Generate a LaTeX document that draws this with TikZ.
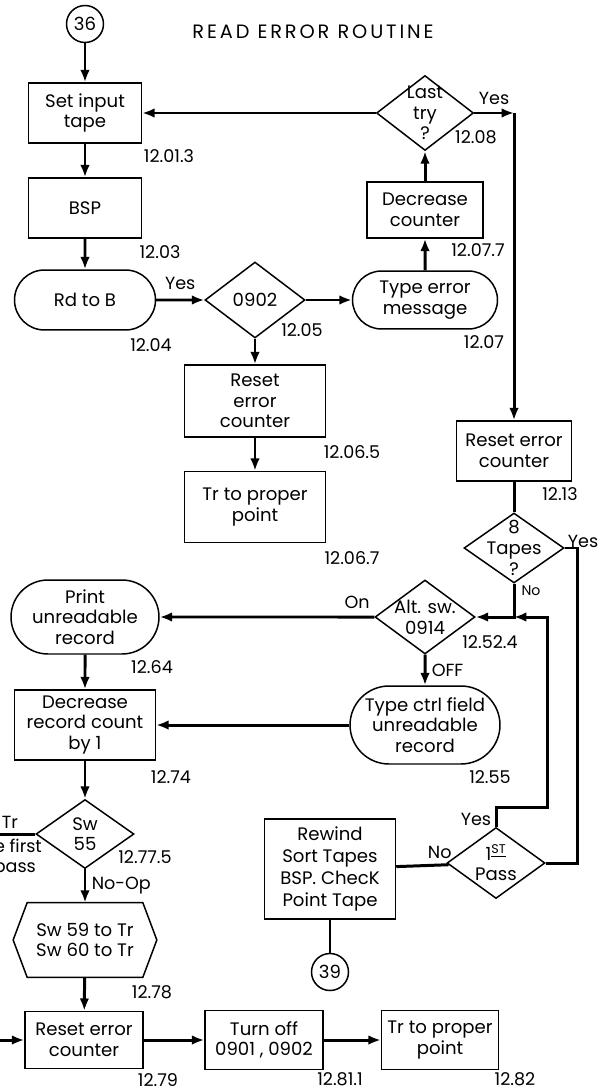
\documentclass[tikz,border=0pt]{standalone}
\usepackage{fontspec}
\setmainfont{Poppins}
\newfontfamily\titlefont[LetterSpace=15]{Poppins}
\usetikzlibrary{arrows.meta,shapes.geometric,shapes.misc,positioning,calc}

\begin{document}
\begin{tikzpicture}[x=0.02cm, y=-0.02cm, >={Latex[length=7pt,width=5.4pt]},
  every node/.style={font=\fontsize{10.3}{11.8}\selectfont},
  box/.style={draw, line width=0.85pt, inner sep=0pt, align=center},
  term/.style={box, rounded rectangle},
  decision/.style={draw, line width=0.85pt, diamond, inner sep=0pt},
  conn/.style={draw, line width=0.85pt, circle, inner sep=0pt, minimum size=0.74cm},
  flow/.style={line width=1.7pt, ->},
  wire/.style={line width=1.7pt},
  tag/.style={font=\fontsize{10}{12}\selectfont, inner sep=1pt},
  small tag/.style={font=\fontsize{8}{9}\selectfont, inner sep=1pt}]
  \useasboundingbox (0,0) rectangle (598,1091);

  % Title and entry
  \node[font=\titlefont\fontsize{11}{13}\selectfont] (title) at (313,32) {READ ERROR ROUTINE};
  \node[conn] (c36) at (85,24) {36};

  % Left column, top
  \node[box, minimum width=2.26cm, minimum height=1.2cm] (setin) at (85,113) {Set input\\tape};
  \node[box, minimum width=2.26cm, minimum height=1.2cm] (bsp) at (85,208) {BSP};
  \node[term, minimum width=2.82cm, minimum height=1.2cm] (rdb) at (85,300) {Rd to B};

  % Middle column
  \node[decision, minimum width=2cm, minimum height=1.52cm, label={center:0902}] (d0902) at (255,300) {};
  \node[box, minimum width=2.82cm, minimum height=1.44cm] (reset1) at (255,401) {Reset\\error\\counter};
  \node[box, minimum width=2.82cm, minimum height=1.42cm] (trpp1) at (255,507) {Tr to proper\\point};

  % Retry loop
  \node[term, minimum width=2.9cm, minimum height=1.16cm] (typeerr) at (425,300) {Type error\\message};
  \node[box, minimum width=2.32cm, minimum height=1.12cm] (deccnt) at (425,210) {Decrease\\counter};
  \node[decision, minimum width=1.94cm, minimum height=1.5cm,
        label={[align=center]center:Last\\try\\?}] (lasttry) at (425,113) {};

  % Right column
  \node[box, minimum width=2.3cm, minimum height=1.2cm] (reset2) at (514,451) {Reset error\\counter};
  \node[decision, minimum width=2cm, minimum height=1.4cm,
        label={[align=center]center:8\\Tapes\\?}] (tapes8) at (514,548) {};
  \node[decision, minimum width=2cm, minimum height=1.48cm,
        label={[align=center]center:Alt. sw.\\0914}] (altsw) at (425,617) {};
  \node[term, minimum width=3cm, minimum height=1.56cm] (typectrl) at (425,725) {Type ctrl field\\unreadable\\record};
  \node[decision, minimum width=1.96cm, minimum height=1.42cm,
        label={[align=center]center:1\textsuperscript{\underline{ST}}\\Pass}] (pass1) at (496,863) {};
  \node[box, minimum width=2.62cm, minimum height=2cm, font=\fontsize{10.3}{12.4}\selectfont] (rewind) at (330,869) {Rewind\\Sort Tapes\\BSP. ChecK\\Point Tape};
  \node[conn] (c39) at (330,972) {39};

  % Left column, bottom
  \node[term, minimum width=2.96cm, minimum height=1.48cm] (print) at (85,617) {Print\\unreadable\\record};
  \node[box, minimum width=2.82cm, minimum height=1.4cm] (decrec) at (85,725) {Decrease\\record count\\by 1};
  \node[decision, minimum width=1.96cm, minimum height=1.38cm,
        label={[align=center]center:Sw\\55}] (sw55) at (85,834) {};
  \node[minimum width=2.86cm, minimum height=1.48cm, inner sep=0pt, align=center] (hexa) at (85,940) {Sw 59 to Tr\\Sw 60 to Tr};
  \draw[line width=0.85pt] (hexa.west) -- ([xshift=0.28cm]hexa.north west) -- ([xshift=-0.28cm]hexa.north east)
    -- (hexa.east) -- ([xshift=-0.28cm]hexa.south east) -- ([xshift=0.28cm]hexa.south west) -- cycle;
  \node[box, minimum width=2.36cm, minimum height=1.14cm] (reset3) at (84,1040) {Reset error\\counter};
  \node[box, minimum width=2.36cm, minimum height=1.18cm] (turnoff) at (264,1040) {Turn off\\0901 , 0902};
  \node[box, minimum width=2.34cm, minimum height=1.18cm] (trpp2) at (440,1040) {Tr to proper\\point};

  % Step numbers
  \node[tag] (s1) at (169,156) {12.01.3};
  \node[tag] (s2) at (160,252) {12.03};
  \node[tag] (s3) at (151,345) {12.04};
  \node[tag] (s4) at (302,330) {12.05};
  \node[tag] (s5) at (352,452) {12.06.5};
  \node[tag] (s6) at (352,558) {12.06.7};
  \node[tag] (s7) at (484,342) {12.07};
  \node[tag] (s8) at (478,250) {12.07.7};
  \node[tag] (s9) at (476,137) {12.08};
  \node[tag] (s10) at (560,494) {12.13};
  \node[tag] (s11) at (490,642) {12.52.4};
  \node[tag] (s12) at (152,667) {12.64};
  \node[tag] (s13) at (490,777) {12.55};
  \node[tag] (s14) at (171,777) {12.74};
  \node[tag] (s15) at (145,857) {12.77.5};
  \node[tag] (s16) at (152,992) {12.78};
  \node[tag] (s17) at (158,1080) {12.79};
  \node[tag] (s18) at (340,1079) {12.81.1};
  \node[tag] (s19) at (515,1079) {12.82};

  % Connectors
  \draw[flow] (c36) -- (setin);
  \draw[flow] (setin) -- (bsp);
  \draw[flow] (bsp) -- (rdb);
  \draw[flow] (rdb) -- node[tag, above=4pt] (yes1) {Yes} (d0902);
  \draw[flow] (d0902) -- (typeerr);
  \draw[flow] (d0902) -- (reset1);
  \draw[flow] (reset1) -- (trpp1);
  \draw[flow] (typeerr) -- (deccnt);
  \draw[flow] (deccnt) -- (lasttry);
  \draw[flow] (lasttry) -- (setin);
  \coordinate (yc) at (lasttry.east -| reset2.north);
  \draw[flow] (lasttry) -- node[tag, above=3pt] (yes2) {Yes} (yc);
  \draw[flow] (yc) -- (reset2);
  \draw[wire] (reset2) -- (tapes8);
  \coordinate (ry) at (577,548);
  \draw[wire] (tapes8.east) -- (ry) |- (pass1.east);
  \node[tag] (yes3) at (583,541) {Yes};
  \coordinate (jn) at (tapes8.south |- altsw.east);
  \draw[flow] (tapes8) -- (jn) -- (altsw);
  \node[small tag] (no1) at (531,591) {No};
  \coordinate (rt) at (547,807);
  \draw[flow] (pass1.north) |- (rt) -- (rt |- jn) -- (jn);
  \node[tag] (yes4) at (476,819) {Yes};
  \draw[flow] (altsw) -- node[tag, above=3pt, pos=0.08] (on) {On} (print);
  \draw[flow] (altsw) -- node[tag, right=2pt] (off) {OFF} (typectrl);
  \draw[flow] (typectrl) -- (decrec);
  \draw[flow] (print) -- (decrec);
  \draw[flow] (decrec) -- (sw55);
  \coordinate (lout) at (0,834);
  \draw[wire] (sw55) -- (lout);
  \node[tag, anchor=east] (tr) at (20,822) {Tr};
  \node[tag, anchor=east] (first) at (44,846) {e first};
  \node[tag, anchor=east] (pass) at (38,870) {pass};
  \draw[flow] (sw55) -- node[tag, right=2pt] (noop) {No-Op} (hexa);
  \draw[flow] (hexa) -- (reset3);
  \coordinate (lin) at (0,1040);
  \draw[flow] (lin) -- (reset3);
  \draw[flow] (reset3) -- (turnoff);
  \draw[flow] (turnoff) -- (trpp2);
  \draw[wire] (pass1) -- node[tag, above=2pt, pos=0.17] (no2) {No} (rewind);
  \draw[wire] (rewind) -- (c39);
\end{tikzpicture}
\end{document}
